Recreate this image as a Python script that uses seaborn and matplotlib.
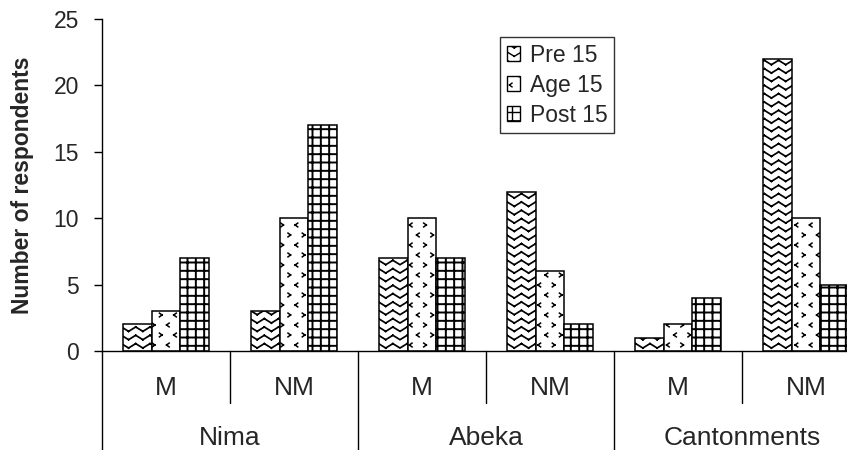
import numpy as np
import pandas as pd
import matplotlib
matplotlib.use("Agg")
import matplotlib.pyplot as plt
import matplotlib.hatch as mhatch
import matplotlib.patches as mpatches
import matplotlib.transforms as mtrans
from matplotlib.path import Path
import seaborn as sns

# Data
sites = ["Nima", "Abeka", "Cantonments"]
subgroups = ["M", "NM"]
age_groups = ["Pre 15", "Age 15", "Post 15"]
pre15 = [2, 3, 7, 12, 1, 22]
age15 = [3, 10, 10, 6, 2, 10]
post15 = [7, 17, 7, 2, 4, 5]


# Wavy fill for "Pre 15" (drawn when the hatch string contains '*').
# Agg fills hatch paths, so every stroke is its own 2-point sub-path.
class ZigZag(mhatch.HatchPatternBase):
    rows, waves = 12, 7

    def __init__(self, hatch, density):
        self.num_vertices = self.rows * self.waves * 4 if "*" in hatch else 0

    def set_vertices_and_codes(self, vertices, codes):
        xs = np.linspace(0, 1, 2 * self.waves + 1)
        amp = 0.022
        k = 0
        for r in range(self.rows):
            y0 = (r + 0.5) / self.rows
            ys = y0 + amp * (np.arange(len(xs)) % 2 * 2 - 1)
            for i in range(len(xs) - 1):
                vertices[k] = (xs[i], ys[i])
                vertices[k + 1] = (xs[i + 1], ys[i + 1])
                codes[k] = Path.MOVETO
                codes[k + 1] = Path.LINETO
                k += 2


# Small "<" / ">" marks for "Age 15" (drawn when the hatch string contains 'o')
class Chevrons(mhatch.HatchPatternBase):
    rows, cols = 10, 7

    def __init__(self, hatch, density):
        self.num_vertices = self.rows * self.cols * 4 if "o" in hatch else 0

    def set_vertices_and_codes(self, vertices, codes):
        w, h = 0.026, 0.038
        k = 0
        for r in range(self.rows):
            y = (r + 0.5) / self.rows
            for c in range(self.cols):
                x = (c + 0.25 + 0.5 * (r % 2)) / self.cols
                d = 1 if (r + c) % 2 else -1
                tip = (x - d * w / 2, y)
                vertices[k] = (x + d * w / 2, y + h / 2)
                vertices[k + 1] = tip
                vertices[k + 2] = (x + d * w / 2, y - h / 2)
                vertices[k + 3] = tip
                codes[k] = Path.MOVETO
                codes[k + 1] = Path.LINETO
                codes[k + 2] = Path.MOVETO
                codes[k + 3] = Path.LINETO
                k += 4


mhatch._hatch_types = [mhatch.HorizontalHatch, mhatch.VerticalHatch, ZigZag, Chevrons]
hatches = ["*", "o", "++"]
hatch_widths = [1.25, 1.1, 1.4]

slots = [f"{s} {g}" for s in sites for g in subgroups]
df = pd.DataFrame({
    "slot": slots * 3,
    "age": np.repeat(age_groups, len(slots)),
    "count": pre15 + age15 + post15,
})

sns.set_style("white")
plt.rcParams["font.family"] = ["Liberation Sans", "DejaVu Sans"]
plt.rcParams["hatch.linewidth"] = 1.0


def style_hatch(patch, h, hw):
    patch.set_hatch(h)
    if hasattr(patch, "set_hatch_linewidth"):
        patch.set_hatch_linewidth(hw)


fig = plt.figure(figsize=(8.47, 4.5), dpi=100)
ax = fig.add_axes([0.1204, 0.22, 0.9067, 0.7378])

sns.barplot(data=df, x="slot", y="count", hue="age", order=slots, hue_order=age_groups,
            palette=["white"] * 3, saturation=1, width=0.67, errorbar=None,
            edgecolor="black", linewidth=1.1, legend=False, ax=ax)

for cont, h, hw in zip(ax.containers, hatches, hatch_widths):
    for bar in cont:
        style_hatch(bar, h, hw)

ax.set_xlim(-0.5, 5.5)
ax.set_ylim(0, 25)
ax.set_yticks([0, 5, 10, 15, 20, 25])
ax.tick_params(axis="y", labelsize=16.5, length=5.5, width=1, color="black", pad=11, left=True)
ax.tick_params(axis="x", length=0, labelbottom=False)
ax.set_xlabel("")
ax.set_ylabel("Number of respondents", fontsize=16.5, fontweight="bold", labelpad=14)
for side in ["top", "right"]:
    ax.spines[side].set_visible(False)
for side in ["left", "bottom"]:
    ax.spines[side].set_color("black")
    ax.spines[side].set_linewidth(1)

# Two-level category axis below the plot
trans = mtrans.blended_transform_factory(ax.transData, ax.transAxes)
for i, slot in enumerate(slots):
    ax.text(i, -0.111, slot.split(" ")[-1], transform=trans, ha="center", va="center", fontsize=19)
for j, site in enumerate(sites):
    ax.text(2 * j + 0.5, -0.262, site, transform=trans, ha="center", va="center", fontsize=19)
for b in np.arange(-0.5, 6, 1):
    low = -0.157 if int(b + 0.5) % 2 == 1 else -0.3
    ax.plot([b, b], [0, low], transform=trans, color="black", lw=1, clip_on=False)

handles = [mpatches.Patch(facecolor="white", edgecolor="black", label=g) for g in age_groups]
for p, h, hw in zip(handles, hatches, hatch_widths):
    style_hatch(p, h, hw)
leg = ax.legend(handles=handles, loc="upper left", bbox_to_anchor=(0.518, 0.946),
                borderaxespad=0, fontsize=16.5, frameon=True, fancybox=False,
                handlelength=0.6, handleheight=0.6, handletextpad=0.4,
                labelspacing=0.3, borderpad=0.3)
leg.get_frame().set_edgecolor("black")
leg.get_frame().set_linewidth(1)

fig.savefig("out.png", dpi=100)
